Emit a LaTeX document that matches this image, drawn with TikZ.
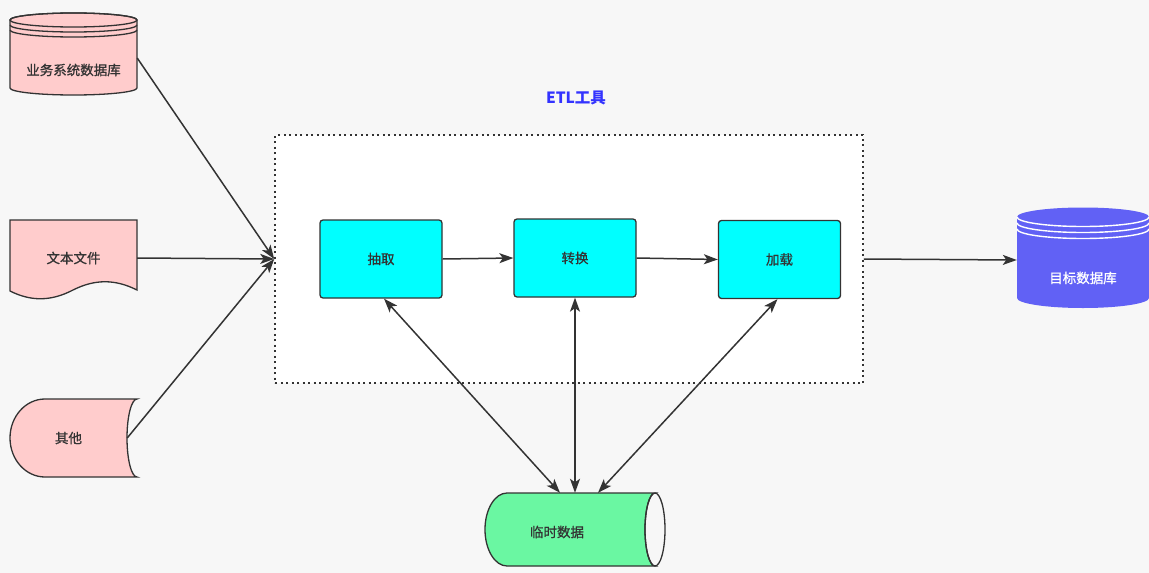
\documentclass[tikz,border=0pt]{standalone}
\usepackage{fontspec}
\setmainfont{Noto Sans CJK SC}
\newfontfamily\labelfont[FakeBold=0.9]{Noto Sans CJK SC}
\usetikzlibrary{arrows.meta}
\definecolor{bg}{HTML}{F7F7F7}
\definecolor{ink}{HTML}{333333}
\definecolor{pinkfill}{HTML}{FFCCCC}
\definecolor{cyanfill}{HTML}{00FFFF}
\definecolor{dbblue}{HTML}{6161F5}
\definecolor{tmpgreen}{HTML}{6AF7A2}
\definecolor{etlblue}{HTML}{3333FF}
\begin{document}
\begin{tikzpicture}[x=1pt,y=1pt,
  txt/.style={font=\labelfont\fontsize{13.5}{15}\selectfont, text=ink, inner sep=0pt},
  outline/.style={draw=ink, line width=1.3pt},
  stepbox/.style={rectangle, rounded corners=3pt, outline, fill=cyanfill,
    minimum width=122pt, minimum height=78pt, txt},
  tip/.tip={Stealth[length=14pt,width=10pt,inset=3.5pt]},
  conn/.style={draw=ink, line width=1.5pt, -tip},
  both/.style={draw=ink, line width=1.5pt, tip-tip}
]
\fill[bg] (0,0) rectangle (1149,-573);
\useasboundingbox (0,0) rectangle (1149,-573);

% ETL tool frame
\node[rectangle, fill=white, draw=ink, line width=1.6pt, dash pattern=on 2pt off 3.5pt,
  minimum width=588pt, minimum height=248pt, inner sep=0pt] (etl) at (569,-259) {};
\node[font=\fontsize{15.5}{17}\selectfont\bfseries, text=etlblue] (etltitle) at (576,-98) {ETL工具};

% source: business database (cylinder)
\path[outline, fill=pinkfill] (10,-20) -- (10,-88)
  arc[start angle=180,end angle=360,x radius=63.5,y radius=7] -- (137,-20)
  arc[start angle=0,end angle=180,x radius=63.5,y radius=7] -- cycle;
\draw[outline] (73.5,-20) ellipse[x radius=63.5,y radius=7];
\draw[outline] (10,-25) arc[start angle=180,end angle=360,x radius=63.5,y radius=7];
\draw[outline] (10,-30) arc[start angle=180,end angle=360,x radius=63.5,y radius=7];
\node[txt, minimum width=127pt, minimum height=66pt] (src1) at (73.5,-60) {};
\node[txt] (src1label) at (73.5,-70) {业务系统数据库};

% source: text files (document)
\path[outline, fill=pinkfill] (10,-220) -- (137,-220) -- (137,-290)
  .. controls (115,-279) and (95,-279) .. (73,-290)
  .. controls (50,-302) and (30,-301) .. (10,-291) -- cycle;
\node[txt, minimum width=127pt, minimum height=76pt] (src2) at (73.5,-258) {文本文件};

% source: others (stored data)
\path[outline, fill=pinkfill] (137,-399) -- (45,-399)
  arc[start angle=90,end angle=270,x radius=35,y radius=39] -- (137,-477)
  arc[start angle=270,end angle=90,x radius=10,y radius=39] -- cycle;
\node[txt, minimum width=117pt, minimum height=78pt] (src3) at (68.5,-438) {其他};

% steps
\node[stepbox] (extract) at (381,-259) {抽取};
\node[stepbox] (transform) at (575,-258) {转换};
\node[stepbox] (load) at (779.5,-259.5) {加载};

% target database
\path[fill=dbblue] (1017,-217) -- (1017,-298)
  arc[start angle=180,end angle=360,x radius=66,y radius=10] -- (1149,-217)
  arc[start angle=0,end angle=180,x radius=66,y radius=9.5] -- cycle;
\draw[white, line width=1.4pt] (1017,-217) arc[start angle=180,end angle=360,x radius=66,y radius=9.5];
\draw[white, line width=1.4pt] (1017,-223) arc[start angle=180,end angle=360,x radius=66,y radius=9.5];
\draw[white, line width=1.4pt] (1017,-229) arc[start angle=180,end angle=360,x radius=66,y radius=9.5];
\node[txt, minimum width=132pt, minimum height=90pt] (tgt) at (1083,-260) {};
\node[txt, text=white] (tgtlabel) at (1083,-278) {目标数据库};

% staging data (horizontal cylinder)
\path[outline, fill=tmpgreen] (655,-493) -- (507,-493)
  arc[start angle=90,end angle=270,x radius=22,y radius=36.5] -- (655,-566)
  arc[start angle=270,end angle=90,x radius=10,y radius=36.5] -- cycle;
\draw[outline] (655,-529.5) ellipse[x radius=10,y radius=36.5];
\node[txt, minimum width=180pt, minimum height=73pt] (tmp) at (575,-529.5) {};
\node[txt] (tmplabel) at (557,-532) {临时数据};

% flow
\draw[conn] ([yshift=2pt]src1.east) -- (etl.west);
\draw[conn] (src2.east) -- (etl.west);
\draw[conn] (src3.east) -- (etl.west);
\draw[conn] (extract.east) -- (transform.west);
\draw[conn] (transform.east) -- (load.west);
\draw[conn] (etl.east) -- (tgt.west);

% exchange with staging data
\draw[both] ([xshift=3pt]extract.south) -- ([xshift=-15pt]tmp.north);
\draw[both] (transform.south) -- (tmp.north);
\draw[both] ([xshift=-2pt]load.south) -- ([xshift=23pt]tmp.north);
\end{tikzpicture}
\end{document}
